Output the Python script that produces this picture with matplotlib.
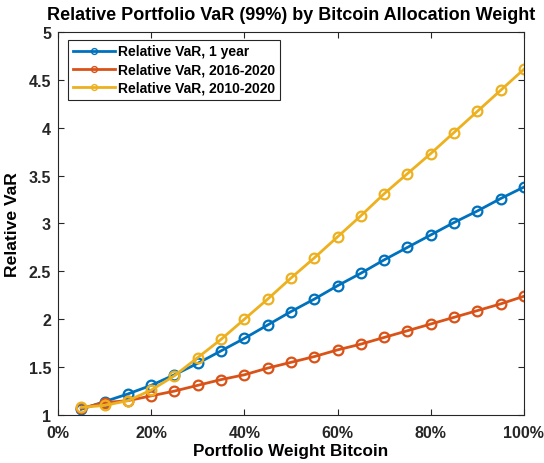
import matplotlib
matplotlib.use("Agg")
import matplotlib.pyplot as plt
from matplotlib.ticker import FuncFormatter

plt.rcParams['font.family'] = ['Liberation Sans', 'DejaVu Sans']
plt.rcParams['font.weight'] = 'bold'

weights = [5, 10, 15, 20, 25, 30, 35, 40, 45, 50, 55, 60, 65, 70, 75, 80, 85, 90, 95, 100]
var_1year = [1.06, 1.14, 1.22, 1.31, 1.42, 1.54, 1.67, 1.80, 1.94, 2.08, 2.21, 2.35, 2.48, 2.62, 2.75, 2.88, 3.01, 3.13, 3.26, 3.38]
var_2016 = [1.07, 1.13, 1.15, 1.20, 1.25, 1.31, 1.37, 1.42, 1.49, 1.55, 1.61, 1.68, 1.74, 1.81, 1.88, 1.95, 2.02, 2.09, 2.16, 2.24]
var_2010 = [1.08, 1.10, 1.15, 1.26, 1.41, 1.60, 1.79, 2.00, 2.21, 2.43, 2.64, 2.86, 3.08, 3.31, 3.52, 3.73, 3.95, 4.17, 4.39, 4.61]
labels = ['Relative VaR, 1 year', 'Relative VaR, 2016-2020', 'Relative VaR, 2010-2020']
colors = ['#0072BD', '#D95319', '#EDB120']

fig = plt.figure(figsize=(5.44, 4.64), dpi=100)
ax = fig.add_axes([0.1066, 0.1034, 0.8564, 0.8256])

for ys, lab, c in zip([var_1year, var_2016, var_2010], labels, colors):
    ax.plot(weights, ys, '-o', color=c, lw=2, ms=7, mfc='none', mew=1.6, label=lab)

ax.set_xlim(0, 100)
ax.set_ylim(1, 5)
ax.set_xticks([0, 20, 40, 60, 80, 100])
ax.set_yticks([1, 1.5, 2, 2.5, 3, 3.5, 4, 4.5, 5])
ax.xaxis.set_major_formatter(FuncFormatter(lambda v, p: f"{int(v)}%"))
ax.yaxis.set_major_formatter(FuncFormatter(lambda v, p: f"{v:g}"))
ax.tick_params(direction='in', top=True, right=True, labelsize=11.5, length=4,
               colors='#262626', labelcolor='#262626')
ax.tick_params(axis='x', pad=7)
ax.tick_params(axis='y', pad=5)
for lbl in ax.get_xticklabels() + ax.get_yticklabels():
    lbl.set_fontweight('bold')
for s in ax.spines.values():
    s.set_color('#262626')
    s.set_linewidth(0.8)

ax.set_title('Relative Portfolio VaR (99%) by Bitcoin Allocation Weight', fontsize=13,
             fontweight='bold', pad=9)
ax.set_xlabel('Portfolio Weight Bitcoin', fontsize=12.3, fontweight='bold', labelpad=2)
ax.set_ylabel('Relative VaR', fontsize=12.6, fontweight='bold', labelpad=6)

leg = ax.legend(loc='upper left', fontsize=10, fancybox=False, edgecolor='#262626',
                framealpha=1, borderpad=0.35, handlelength=3.0, handletextpad=0.2,
                labelspacing=0.3, markerscale=0.6, borderaxespad=0,
                bbox_to_anchor=(0.022, 0.98))
leg.get_frame().set_linewidth(0.8)
for h in leg.legend_handles:
    h.set_markeredgewidth(1.0)

fig.savefig('out.png', dpi=100)
